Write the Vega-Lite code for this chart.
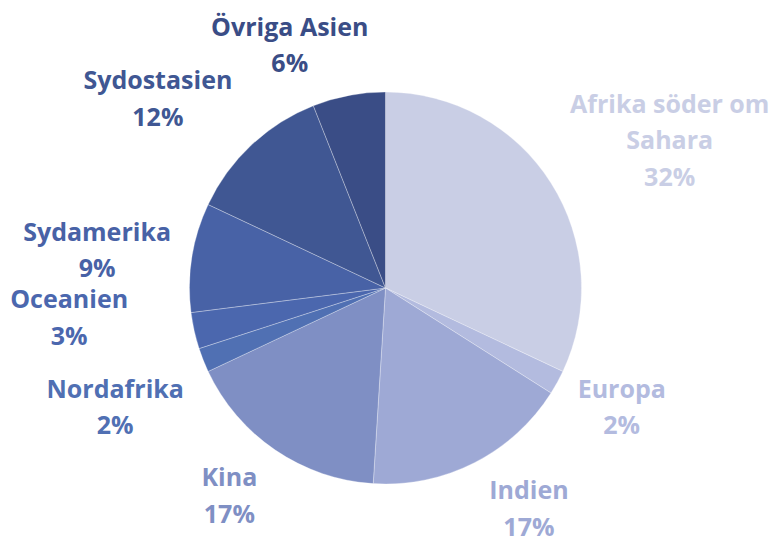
{
  "$schema": "https://vega.github.io/schema/vega-lite/v6.json",
  "width": 771,
  "height": 500,
  "autosize": {"type": "none"},
  "padding": {"top": 38, "bottom": 0, "left": 0, "right": 0},
  "background": "white",
  "view": {"stroke": null},
  "data": {"values": [
    {"i": 1, "region": "Afrika söder om Sahara", "label": "Afrika söder om\nSahara\n32%", "share": 32},
    {"i": 2, "region": "Europa", "label": "Europa\n2%", "share": 2},
    {"i": 3, "region": "Indien", "label": "Indien\n17%", "share": 17},
    {"i": 4, "region": "Kina", "label": "Kina\n17%", "share": 17},
    {"i": 5, "region": "Nordafrika", "label": "Nordafrika\n2%", "share": 2},
    {"i": 6, "region": "Oceanien", "label": "Oceanien\n3%", "share": 3},
    {"i": 7, "region": "Sydamerika", "label": "Sydamerika\n9%", "share": 9},
    {"i": 8, "region": "Sydostasien", "label": "Sydostasien\n12%", "share": 12},
    {"i": 9, "region": "Övriga Asien", "label": "Övriga Asien\n6%", "share": 6}
  ]},
  "encoding": {
    "theta": {"field": "share", "type": "quantitative", "stack": true},
    "order": {"field": "i", "type": "quantitative"},
    "color": {
      "field": "region",
      "type": "nominal",
      "scale": {
        "domain": ["Afrika söder om Sahara", "Europa", "Indien", "Kina", "Nordafrika", "Oceanien", "Sydamerika", "Sydostasien", "Övriga Asien"],
        "range": ["#c9cee5", "#b3bbdf", "#9ea9d5", "#7f8fc4", "#5070b3", "#4b67ae", "#4862a6", "#405793", "#3a4d86"]
      },
      "legend": null
    }
  },
  "layer": [
    {"mark": {"type": "arc", "outerRadius": 196, "stroke": "white", "strokeWidth": 0.5, "strokeOpacity": 0.6}},
    {"mark": {"type": "text", "radius": 320, "dx": 14, "dy": -12, "font": "Open Sans", "fontSize": 25, "fontWeight": "bold", "lineBreak": "\n", "lineHeight": 36.5, "align": "center", "baseline": "middle"},
     "encoding": {"text": {"condition": {"test": "datum.i === 1", "field": "label"}, "value": ""}}},
    {"mark": {"type": "text", "radius": 265, "dx": 4, "dy": -26, "font": "Open Sans", "fontSize": 25, "fontWeight": "bold", "lineBreak": "\n", "lineHeight": 36.5, "align": "center", "baseline": "middle"},
     "encoding": {"text": {"condition": {"test": "datum.i === 2", "field": "label"}, "value": ""}}},
    {"mark": {"type": "text", "radius": 263, "dx": 24, "dy": -31, "font": "Open Sans", "fontSize": 25, "fontWeight": "bold", "lineBreak": "\n", "lineHeight": 36.5, "align": "center", "baseline": "middle"},
     "encoding": {"text": {"condition": {"test": "datum.i === 3", "field": "label"}, "value": ""}}},
    {"mark": {"type": "text", "radius": 260, "dx": -10, "dy": -25, "font": "Open Sans", "fontSize": 25, "fontWeight": "bold", "lineBreak": "\n", "lineHeight": 36.5, "align": "center", "baseline": "middle"},
     "encoding": {"text": {"condition": {"test": "datum.i === 4", "field": "label"}, "value": ""}}},
    {"mark": {"type": "text", "radius": 295, "dx": 4, "dy": -7, "font": "Open Sans", "fontSize": 25, "fontWeight": "bold", "lineBreak": "\n", "lineHeight": 36.5, "align": "center", "baseline": "middle"},
     "encoding": {"text": {"condition": {"test": "datum.i === 5", "field": "label"}, "value": ""}}},
    {"mark": {"type": "text", "radius": 317, "dx": -7, "dy": -57, "font": "Open Sans", "fontSize": 25, "fontWeight": "bold", "lineBreak": "\n", "lineHeight": 36.5, "align": "center", "baseline": "middle"},
     "encoding": {"text": {"condition": {"test": "datum.i === 6", "field": "label"}, "value": ""}}},
    {"mark": {"type": "text", "radius": 290, "dx": -2, "dy": -10, "font": "Open Sans", "fontSize": 25, "fontWeight": "bold", "lineBreak": "\n", "lineHeight": 36.5, "align": "center", "baseline": "middle"},
     "encoding": {"text": {"condition": {"test": "datum.i === 7", "field": "label"}, "value": ""}}},
    {"mark": {"type": "text", "radius": 296, "dx": -25, "dy": 9, "font": "Open Sans", "fontSize": 25, "fontWeight": "bold", "lineBreak": "\n", "lineHeight": 36.5, "align": "center", "baseline": "middle"},
     "encoding": {"text": {"condition": {"test": "datum.i === 8", "field": "label"}, "value": ""}}},
    {"mark": {"type": "text", "radius": 260, "dx": -47, "dy": -5, "font": "Open Sans", "fontSize": 25, "fontWeight": "bold", "lineBreak": "\n", "lineHeight": 36.5, "align": "center", "baseline": "middle"},
     "encoding": {"text": {"condition": {"test": "datum.i === 9", "field": "label"}, "value": ""}}}
  ]
}
